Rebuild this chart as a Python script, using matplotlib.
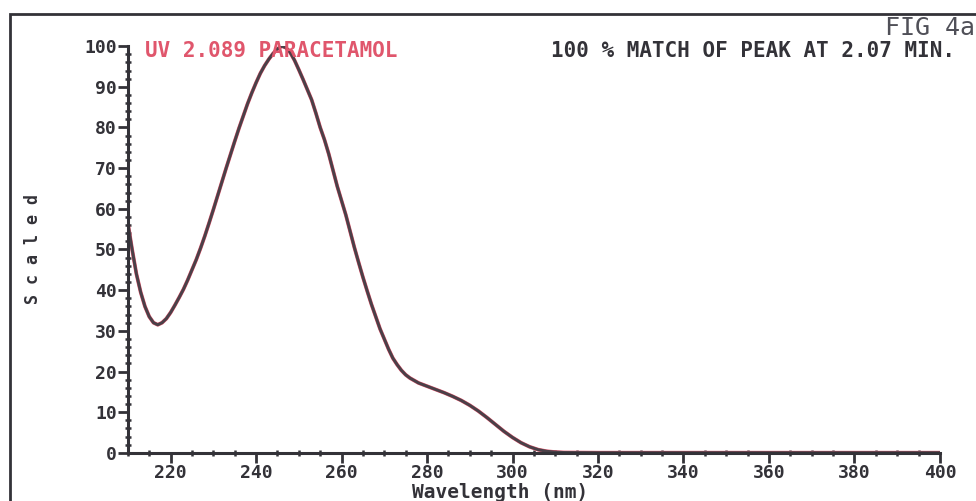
import matplotlib.pyplot as plt
from matplotlib.ticker import MultipleLocator
from matplotlib.patches import Rectangle
import numpy as np

# spectrum (wavelength nm, scaled absorbance)
wavelength = np.array([210, 211, 212, 213, 214, 215, 216, 217, 218, 219,
                       220, 221, 222, 223, 224, 225, 226, 227, 228, 229,
                       230, 231, 232, 233, 234, 235, 236, 237, 238, 239,
                       240, 241, 242, 243, 244, 245, 246, 247, 248, 249,
                       250, 251, 252, 253, 254, 255, 256, 257, 258, 259,
                       260, 261, 262, 263, 264, 265, 266, 267, 268, 269,
                       270, 271, 272, 273, 274, 275, 276, 278, 280, 282,
                       284, 286, 288, 290, 292, 294, 296, 298, 300, 302,
                       304, 306, 308, 310, 312, 320, 400])
scaled = np.array([56.5, 50, 44, 39.5, 36, 33.5, 32, 31.5, 32, 33,
                   34.5, 36.3, 38.2, 40.2, 42.5, 45, 47.5, 50.3, 53.3, 56.5,
                   59.8, 63.2, 66.6, 70, 73.3, 76.6, 79.8, 82.8, 85.8, 88.5,
                   91, 93.3, 95.2, 96.8, 98.2, 99.3, 100, 99.6, 98.4, 96.5,
                   94.2, 91.8, 89.3, 86.8, 83.5, 80, 77, 73.5, 69.5, 65.5,
                   62, 58.5, 54.5, 50.5, 46.8, 43.2, 39.8, 36.5, 33.5, 30.5,
                   28, 25.5, 23.3, 21.7, 20.3, 19.2, 18.4, 17.2, 16.4, 15.6,
                   14.8, 13.9, 12.9, 11.7, 10.3, 8.7, 7, 5.3, 3.8, 2.5,
                   1.5, 0.8, 0.4, 0.2, 0.1, 0.05, 0.05])

xticks = [220, 240, 260, 280, 300, 320, 340, 360, 380, 400]
yticks = [0, 10, 20, 30, 40, 50, 60, 70, 80, 90, 100]

title_red = 'UV 2.089 PARACETAMOL'
title_black = '100 % MATCH OF PEAK AT 2.07 MIN.'
fig_tag = 'FIG 4a'

ink = '#333238'
red = '#e0566c'
mono = 'DejaVu Sans Mono'

fig = plt.figure(figsize=(9.76, 5.01), dpi=100)
ax = fig.add_axes([0.131, 0.096, 0.832, 0.812])

# library spectrum (red) under the sample spectrum (dark)
ax.plot(wavelength, scaled, color=red, lw=2.7, solid_capstyle='round')
ax.plot(wavelength, scaled, color='#4a4048', lw=2.1)

ax.set_xlim(210, 400)
ax.set_ylim(0, 100)
ax.set_xticks(xticks)
ax.set_yticks(yticks)
ax.xaxis.set_minor_locator(MultipleLocator(5))
ax.yaxis.set_minor_locator(MultipleLocator(2))

for s in ['top', 'right']:
    ax.spines[s].set_visible(False)
for s in ['left', 'bottom']:
    ax.spines[s].set_linewidth(2.2)
    ax.spines[s].set_color(ink)

ax.tick_params(which='major', direction='out', length=7, width=2, color=ink,
               labelsize=13, labelcolor=ink, pad=1)
ax.tick_params(which='minor', direction='inout', length=5, width=1.8, color=ink)
for lab in ax.get_xticklabels() + ax.get_yticklabels():
    lab.set_fontweight('bold')
    lab.set_fontfamily(mono)

fig.text(500 / 976, 1 - 498 / 501, 'Wavelength (nm)', fontsize=14,
         fontweight='bold', color=ink, family=mono, ha='center', va='baseline')
ax.set_ylabel('S c a l e d', fontsize=12, fontweight='bold', color=ink,
              family=mono, labelpad=30)

fig.text(145 / 976, 1 - 57 / 501, title_red, color=red, fontsize=15,
         fontweight='bold', family=mono, va='baseline')
fig.text(955 / 976, 1 - 57 / 501, title_black, color=ink, fontsize=15,
         fontweight='bold', family=mono, va='baseline', ha='right')
fig.text(975 / 976, 1 - 35 / 501, fig_tag, color='#505058', fontsize=18,
         family=mono, va='baseline', ha='right')

# outer border of the original printout
fig.patches.append(Rectangle((10 / 976, -0.05), 1.2, 1 - 14 / 501 + 0.05,
                             transform=fig.transFigure, fill=False,
                             edgecolor=ink, lw=2))

plt.savefig('out.png', dpi=100)
